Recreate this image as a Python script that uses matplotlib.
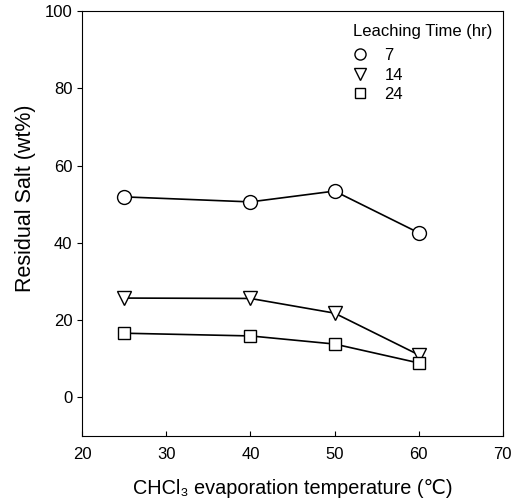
import matplotlib.pyplot as plt

plt.rcParams['font.family'] = ['Liberation Sans', 'DejaVu Sans']

# data
temps = [25, 40, 50, 60]
salt_7hr = [51.9, 50.6, 53.4, 42.6]
salt_14hr = [25.7, 25.6, 21.8, 11.0]
salt_24hr = [16.6, 15.9, 13.8, 8.9]
times = ['7', '14', '24']

fig = plt.figure(figsize=(5.2, 5.04), dpi=100)
ax = fig.add_axes([0.158, 0.135, 0.809, 0.843])

ax.plot(temps, salt_7hr, '-o', color='black', mfc='white', ms=10, lw=1.2, label=times[0])
ax.plot(temps, salt_14hr, '-v', color='black', mfc='white', ms=10, lw=1.2, label=times[1])
ax.plot(temps, salt_24hr, '-s', color='black', mfc='white', ms=9, lw=1.2, label=times[2])

ax.set_xlim(20, 70)
ax.set_ylim(-10, 100)
ax.set_xticks([20, 30, 40, 50, 60, 70])
ax.set_yticks([0, 20, 40, 60, 80, 100])
ax.tick_params(axis='x', direction='in', labelsize=12, pad=8)
ax.tick_params(axis='y', direction='out', labelsize=12)

ax.set_xlabel('CHCl\u2083 evaporation temperature (\u2103)', fontsize=14.3, labelpad=12)
ax.set_ylabel('Residual Salt (wt%)', fontsize=15.5)
ax.yaxis.set_label_coords(-0.11, 0.56)

leg = ax.legend(title='Leaching Time (hr)', loc='upper right', frameon=False,
                bbox_to_anchor=(1, 0.993),
                fontsize=12, title_fontsize=12, handlelength=0.75,
                handletextpad=1.1, labelspacing=0.27, borderaxespad=0.2,
                markerscale=0.8, alignment='left')
leg._legend_box.sep = 6.5
for h in leg.legend_handles:
    h.set_linestyle('none')

fig.savefig('out.png', dpi=100)
